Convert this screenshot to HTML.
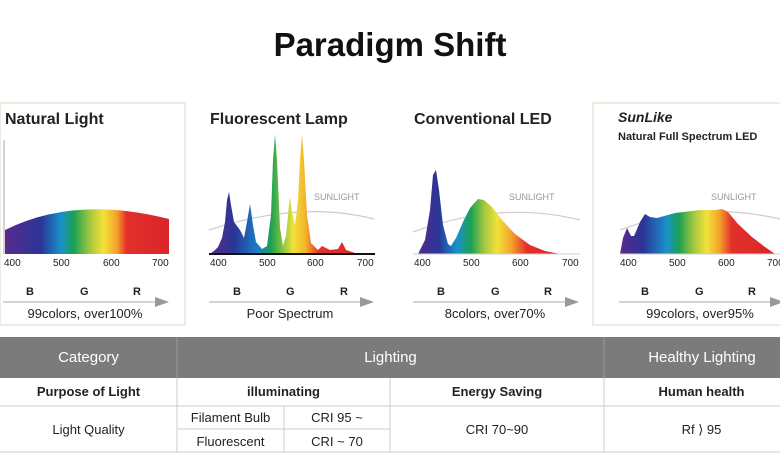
<!DOCTYPE html>
<html><head><style>
body{margin:0;width:780px;height:470px;background:#fff;overflow:hidden;font-family:"Liberation Sans",sans-serif;position:relative}
.t{position:absolute;white-space:nowrap;color:#222}
</style></head><body>
<div class="t" style="left:0;width:780px;text-align:center;top:26px;font-size:33px;font-weight:bold;color:#111">Paradigm Shift</div>
<svg width="780" height="470" style="position:absolute;left:0;top:0">
<defs>
<linearGradient id="g1" gradientUnits="userSpaceOnUse" x1="5" x2="169" y1="0" y2="0">
<stop offset="0" stop-color="#5a2a8c"/><stop offset=".22" stop-color="#2a3596"/><stop offset=".34" stop-color="#1a90cc"/><stop offset=".42" stop-color="#1aa152"/><stop offset=".52" stop-color="#a8c840"/><stop offset=".6" stop-color="#f2e23a"/><stop offset=".68" stop-color="#f3a52a"/><stop offset=".74" stop-color="#e4302a"/><stop offset="1" stop-color="#d92528"/></linearGradient>
<linearGradient id="g2" gradientUnits="userSpaceOnUse" x1="210" x2="370" y1="0" y2="0">
<stop offset="0" stop-color="#5a2a8c"/><stop offset=".15" stop-color="#2a3596"/><stop offset=".3" stop-color="#1a80c8"/><stop offset=".38" stop-color="#1aa152"/><stop offset=".45" stop-color="#80c040"/><stop offset=".52" stop-color="#f2e23a"/><stop offset=".6" stop-color="#f3b02a"/><stop offset=".68" stop-color="#e4302a"/><stop offset="1" stop-color="#d92528"/></linearGradient>
<linearGradient id="g3" gradientUnits="userSpaceOnUse" x1="415" x2="570" y1="0" y2="0">
<stop offset="0" stop-color="#5a2a8c"/><stop offset=".15" stop-color="#2a3596"/><stop offset=".27" stop-color="#1a90cc"/><stop offset=".36" stop-color="#1aa152"/><stop offset=".45" stop-color="#a8c840"/><stop offset=".53" stop-color="#f2e23a"/><stop offset=".62" stop-color="#f3a52a"/><stop offset=".72" stop-color="#e4302a"/><stop offset="1" stop-color="#d92528"/></linearGradient>
<linearGradient id="g4" gradientUnits="userSpaceOnUse" x1="620" x2="775" y1="0" y2="0">
<stop offset="0" stop-color="#5a2a8c"/><stop offset=".15" stop-color="#2a3596"/><stop offset=".3" stop-color="#1a90cc"/><stop offset=".38" stop-color="#1aa152"/><stop offset=".48" stop-color="#a8c840"/><stop offset=".56" stop-color="#f2e23a"/><stop offset=".64" stop-color="#f3a52a"/><stop offset=".72" stop-color="#e4302a"/><stop offset="1" stop-color="#d92528"/></linearGradient>
</defs>
<g fill="none" stroke="#e8e6d6" stroke-width="1.5"><rect x="0" y="103" width="185" height="222"/><rect x="593" y="103" width="190" height="222"/></g>
<line x1="4" y1="140" x2="4" y2="254" stroke="#aaa"/>
<path d="M5 254 L5 230 Q75 195 169 219 L169 254Z" fill="url(#g1)"/>
<path d="M209 230 Q300 200 374 219" fill="none" stroke="#ccc" stroke-width="1.2"/>
<path d="M210 254 L215 250 L218 247 L222 238 L225 222 L227 200 L229 192 L231 205 L234 222 L240 230 L244 238 L247 222 L250 204 L253 225 L256 242 L262 249 L267 246 L271 215 L273 160 L275 134 L277 160 L280 228 L283 246 L286 236 L289 205 L290 197 L292 212 L295 225 L298 200 L300 160 L302 134 L304 160 L307 215 L311 243 L318 250 L322 246 L330 250 L338 249 L342 242 L346 250 L355 253 L370 254Z" fill="url(#g2)"/>
<line x1="209" y1="254" x2="375" y2="254" stroke="#111" stroke-width="2"/>
<path d="M413 232 Q500 200 580 220" fill="none" stroke="#ccc" stroke-width="1.2"/>
<path d="M418 254 L425 240 L430 210 L433 175 L436 170 L439 190 L443 225 L448 244 L451 246 L456 238 L463 222 L470 208 L478 199 L484 200 L492 207 L502 220 L515 234 L530 245 L545 251 L560 254Z" fill="url(#g3)"/>
<line x1="413" y1="254" x2="580" y2="254" stroke="#ccc"/>
<path d="M620 230 Q700 200 780 219" fill="none" stroke="#ccc" stroke-width="1.2"/>
<path d="M620 254 L623 238 L627 228 L631 236 L634 236 L640 222 L645 214 L650 217 L657 218 L675 213 L700 210 L715 210 L722 209 L728 212 L738 224 L752 237 L765 247 L775 254Z" fill="url(#g4)"/>
<line x1="620" y1="254" x2="780" y2="254" stroke="#ccc"/>
<g stroke="#bbb" stroke-width="1.2"><line x1="3" y1="302" x2="158" y2="302"/><line x1="209" y1="302" x2="362" y2="302"/><line x1="413" y1="302" x2="567" y2="302"/><line x1="619" y1="302" x2="772" y2="302"/></g>
<g fill="#999"><path d="M155 297 L169 302 L155 307Z"/><path d="M360 297 L374 302 L360 307Z"/><path d="M565 297 L579 302 L565 307Z"/><path d="M770 297 L784 302 L770 307Z"/></g>
<rect x="0" y="337" width="780" height="41" fill="#7b7b7b"/>
<g stroke="#ccc" stroke-width="1"><line x1="0" y1="406" x2="780" y2="406"/><line x1="0" y1="452" x2="780" y2="452"/><line x1="177" y1="429" x2="390" y2="429"/><line x1="177" y1="378" x2="177" y2="452"/><line x1="390" y1="378" x2="390" y2="452"/><line x1="604" y1="378" x2="604" y2="452"/><line x1="284" y1="406" x2="284" y2="452"/></g>
<g stroke="#999"><line x1="177" y1="337" x2="177" y2="378"/><line x1="604" y1="337" x2="604" y2="378"/></g>
</svg>
<div class="t" style="left:5px;top:111px;font-size:16px;font-weight:bold">Natural Light</div>
<div class="t" style="left:210px;top:111px;font-size:16px;font-weight:bold">Fluorescent Lamp</div>
<div class="t" style="left:414px;top:111px;font-size:16px;font-weight:bold">Conventional LED</div>
<div class="t" style="left:618px;top:109px;font-size:14px;font-weight:bold;font-style:italic">SunLike</div>
<div class="t" style="left:618px;top:131px;font-size:11px;font-weight:bold">Natural Full Spectrum LED</div>
<div class="t" style="left:314px;top:192px;font-size:9px;color:#999">SUNLIGHT</div>
<div class="t" style="left:509px;top:192px;font-size:9px;color:#999">SUNLIGHT</div>
<div class="t" style="left:711px;top:192px;font-size:9px;color:#999">SUNLIGHT</div>
<div style="position:absolute;top:258px;font-size:10px;color:#666">
<span class="t" style="left:4px">400</span><span class="t" style="left:53px">500</span><span class="t" style="left:103px">600</span><span class="t" style="left:152px">700</span>
<span class="t" style="left:210px">400</span><span class="t" style="left:259px">500</span><span class="t" style="left:307px">600</span><span class="t" style="left:357px">700</span>
<span class="t" style="left:414px">400</span><span class="t" style="left:463px">500</span><span class="t" style="left:512px">600</span><span class="t" style="left:562px">700</span>
<span class="t" style="left:620px">400</span><span class="t" style="left:669px">500</span><span class="t" style="left:718px">600</span><span class="t" style="left:767px">700</span></div>
<div style="position:absolute;top:286px;font-size:11px;font-weight:bold">
<span class="t" style="left:26px">B</span><span class="t" style="left:80px">G</span><span class="t" style="left:133px">R</span>
<span class="t" style="left:233px">B</span><span class="t" style="left:286px">G</span><span class="t" style="left:340px">R</span>
<span class="t" style="left:437px">B</span><span class="t" style="left:491px">G</span><span class="t" style="left:544px">R</span>
<span class="t" style="left:641px">B</span><span class="t" style="left:695px">G</span><span class="t" style="left:748px">R</span></div>
<div class="t" style="left:0;width:170px;text-align:center;top:306px;font-size:13px">99colors, over100%</div>
<div class="t" style="left:205px;width:170px;text-align:center;top:306px;font-size:13px">Poor Spectrum</div>
<div class="t" style="left:410px;width:170px;text-align:center;top:306px;font-size:13px">8colors, over70%</div>
<div class="t" style="left:615px;width:170px;text-align:center;top:306px;font-size:13px">99colors, over95%</div>
<div class="t" style="left:0;width:177px;text-align:center;top:349px;font-size:15px;color:#fff">Category</div>
<div class="t" style="left:177px;width:427px;text-align:center;top:349px;font-size:15px;color:#fff">Lighting</div>
<div class="t" style="left:604px;width:176px;text-align:center;top:349px;font-size:15px;color:#fff;padding-left:10px">Healthy Lighting</div>
<div style="font-size:13px;font-weight:bold">
<div class="t" style="left:0;width:177px;text-align:center;top:384px">Purpose of Light</div>
<div class="t" style="left:177px;width:213px;text-align:center;top:384px">illuminating</div>
<div class="t" style="left:390px;width:214px;text-align:center;top:384px">Energy Saving</div>
<div class="t" style="left:604px;width:195px;text-align:center;top:384px">Human health</div>
</div>
<div style="font-size:13px">
<div class="t" style="left:0;width:177px;text-align:center;top:422px">Light Quality</div>
<div class="t" style="left:177px;width:107px;text-align:center;top:410px">Filament Bulb</div>
<div class="t" style="left:284px;width:106px;text-align:center;top:410px">CRI 95 ~</div>
<div class="t" style="left:177px;width:107px;text-align:center;top:434px">Fluorescent</div>
<div class="t" style="left:284px;width:106px;text-align:center;top:434px">CRI ~ 70</div>
<div class="t" style="left:390px;width:214px;text-align:center;top:422px">CRI 70~90</div>
<div class="t" style="left:604px;width:195px;text-align:center;top:422px;font-family:'Liberation Sans','DejaVu Sans',sans-serif">Rf ⟩ 95</div>
</div>
</body></html>
